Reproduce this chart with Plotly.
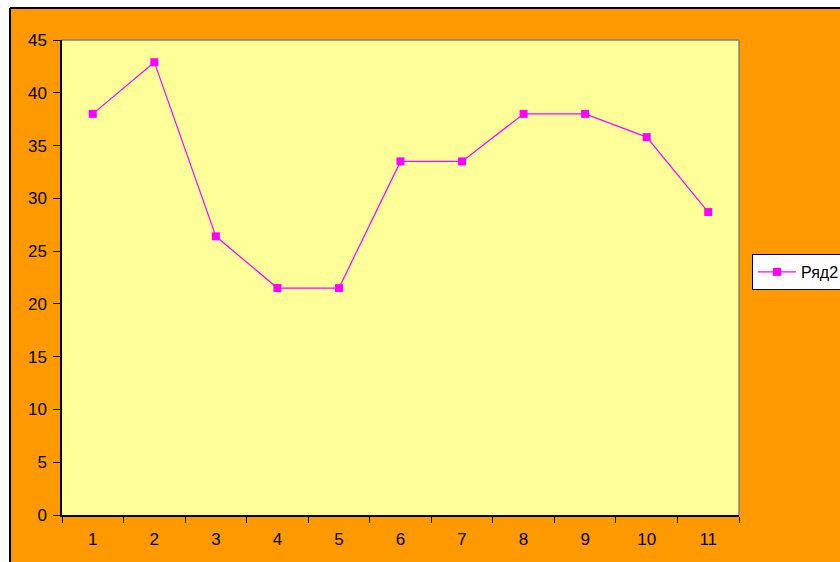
import plotly.graph_objects as go

# Series data
categories = ["1", "2", "3", "4", "5", "6", "7", "8", "9", "10", "11"]
values = [38.0, 42.9, 26.4, 21.5, 21.5, 33.5, 33.5, 38.0, 38.0, 35.8, 28.7]
series_name = "Ряд2"
y_ticks = [0, 5, 10, 15, 20, 25, 30, 35, 40, 45]

W, H = 840, 562
L, R, T, B = 62, 739, 40, 515
pw, ph = R - L, B - T

def px_x(x):
    return (x - L) / pw

def px_y(y):
    return (B - y) / ph

fig = go.Figure()
fig.add_trace(go.Scatter(
    x=categories, y=values, name=series_name, mode="lines+markers",
    line=dict(color="#FF00FF", width=1.2),
    marker=dict(symbol="square", size=8, color="#FF00FF"),
    showlegend=True,
))

font = dict(family="Liberation Sans, Arial", size=17, color="#000000")

shapes = [
    # white strips outside the chart frame
    dict(type="rect", xref="paper", yref="paper", x0=px_x(-5), x1=px_x(W + 5),
         y0=px_y(8), y1=px_y(-5), fillcolor="white", line=dict(width=0), layer="above"),
    dict(type="rect", xref="paper", yref="paper", x0=px_x(-5), x1=px_x(10),
         y0=px_y(H + 5), y1=px_y(-5), fillcolor="white", line=dict(width=0), layer="above"),
    # frame border
    dict(type="line", xref="paper", yref="paper", x0=px_x(10), x1=px_x(W + 5),
         y0=px_y(8), y1=px_y(8), line=dict(color="black", width=2), layer="above"),
    dict(type="line", xref="paper", yref="paper", x0=px_x(10), x1=px_x(10),
         y0=px_y(8), y1=px_y(H + 5), line=dict(color="black", width=2), layer="above"),
    # plot-area border, top and right
    dict(type="line", xref="paper", yref="paper", x0=0, x1=1, y0=1, y1=1,
         line=dict(color="#808080", width=1.5), layer="above"),
    dict(type="line", xref="paper", yref="paper", x0=1, x1=1, y0=0, y1=1,
         line=dict(color="#808080", width=1.5), layer="above"),
]

fig.update_layout(
    width=W, height=H,
    margin=dict(l=L, r=W - R, t=T, b=H - B, pad=0, autoexpand=False),
    paper_bgcolor="#FF9900",
    plot_bgcolor="#FFFF99",
    font=font,
    shapes=shapes,
    showlegend=True,
    legend=dict(
        x=px_x(752), y=px_y(272), xanchor="left", yanchor="middle",
        bgcolor="white", bordercolor="black", borderwidth=1,
        font=dict(family="Liberation Sans, Arial", size=16, color="black"),
        itemwidth=38, tracegroupgap=0,
    ),
    xaxis=dict(
        type="category", tickson="boundaries", ticks="outside", ticklen=6,
        tickcolor="black", tickwidth=1, showline=True, linecolor="black",
        linewidth=1.5, showgrid=False, zeroline=False, range=[-0.5, 10.5],
        tickfont=font, ticklabelstandoff=8,
    ),
    yaxis=dict(
        range=[0, 45], tickvals=y_ticks, ticks="outside", ticklen=7,
        tickcolor="black", tickwidth=1, showline=True, linecolor="black",
        linewidth=1.5, showgrid=False, zeroline=False, tickfont=font,
        ticklabelstandoff=3,
    ),
)

fig.write_html("out.html")
